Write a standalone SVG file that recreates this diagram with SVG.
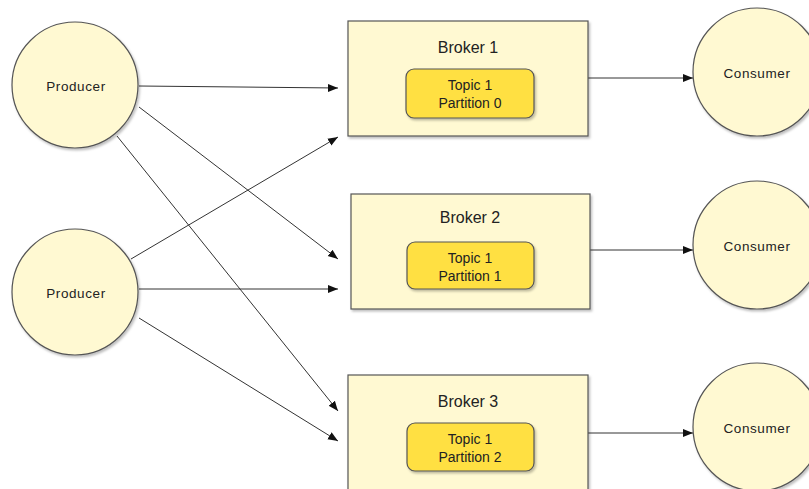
<svg xmlns="http://www.w3.org/2000/svg" width="809" height="489" viewBox="0 0 809 489">
<defs>
<marker id="arr" viewBox="0 0 10 10" refX="10" refY="5" markerWidth="10" markerHeight="10" markerUnits="userSpaceOnUse" orient="auto">
<path d="M0,1 L10,5 L0,9 Z" fill="#111"/>
</marker>
<filter id="sh" x="-10%" y="-10%" width="130%" height="130%">
<feDropShadow dx="1.5" dy="2" stdDeviation="1.2" flood-color="#000" flood-opacity="0.25"/>
</filter>
</defs>
<style>
.node{fill:#fff9d2;stroke:#555;stroke-width:1.2;filter:url(#sh)}
.topic{fill:#ffe043;stroke:#555;stroke-width:1.2;filter:url(#sh)}
.lbl{font-family:"Liberation Sans",Arial,sans-serif;fill:#222;text-anchor:middle;dominant-baseline:central}
.s12{font-size:13.5px;letter-spacing:0.6px}
.s14{font-size:16px}
.s13{font-size:14px}
.edge{stroke:#333;stroke-width:1;fill:none;marker-end:url(#arr)}
</style>
<rect width="809" height="489" fill="#fff"/>
<g id="connectors">
<line class="edge" x1="139" y1="86" x2="338" y2="88"/>
<line class="edge" x1="139" y1="107" x2="338" y2="259"/>
<line class="edge" x1="117" y1="136" x2="338" y2="411"/>
<line class="edge" x1="131" y1="259" x2="338" y2="137"/>
<line class="edge" x1="139" y1="289" x2="338" y2="289"/>
<line class="edge" x1="139" y1="318" x2="338" y2="441"/>
<line class="edge" x1="588" y1="78" x2="693" y2="78"/>
<line class="edge" x1="590" y1="250" x2="693" y2="250"/>
<line class="edge" x1="588" y1="433" x2="693" y2="433"/>
</g>
<g id="producer1">
<circle class="node" cx="75" cy="85" r="63"/>
<text class="lbl s12" x="76" y="86">Producer</text>
</g>
<g id="producer2">
<circle class="node" cx="75" cy="292" r="63"/>
<text class="lbl s12" x="76" y="293">Producer</text>
</g>
<g id="broker1">
<rect class="node" x="348" y="21" width="240" height="115"/>
<text class="lbl s14" x="468" y="47">Broker 1</text>
<rect class="topic" x="406" y="69" width="128" height="49" rx="8"/>
<text class="lbl s13" x="470" y="85">Topic 1</text>
<text class="lbl s13" x="470" y="103">Partition 0</text>
</g>
<g id="broker2">
<rect class="node" x="351" y="194" width="239" height="115"/>
<text class="lbl s14" x="470" y="217">Broker 2</text>
<rect class="topic" x="407" y="242" width="127" height="47" rx="8"/>
<text class="lbl s13" x="470" y="258">Topic 1</text>
<text class="lbl s13" x="470" y="276">Partition 1</text>
</g>
<g id="broker3">
<rect class="node" x="348" y="375" width="240" height="125"/>
<text class="lbl s14" x="468" y="401">Broker 3</text>
<rect class="topic" x="407" y="423" width="127" height="48" rx="8"/>
<text class="lbl s13" x="470" y="439">Topic 1</text>
<text class="lbl s13" x="470" y="457">Partition 2</text>
</g>
<g id="consumer1">
<circle class="node" cx="757" cy="72" r="64"/>
<text class="lbl s12" x="757" y="73">Consumer</text>
</g>
<g id="consumer2">
<circle class="node" cx="757" cy="245" r="64"/>
<text class="lbl s12" x="757" y="246">Consumer</text>
</g>
<g id="consumer3">
<circle class="node" cx="757" cy="427" r="64"/>
<text class="lbl s12" x="757" y="428">Consumer</text>
</g>
</svg>
